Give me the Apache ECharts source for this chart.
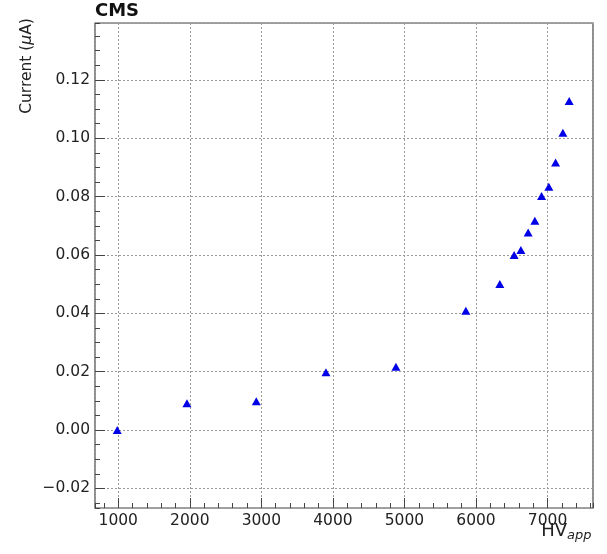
<!DOCTYPE html>
<html>
<head>
<meta charset="utf-8">
<script src="https://cdn.jsdelivr.net/npm/echarts@6/dist/echarts.min.js"></script>
<style>
  html, body { margin: 0; padding: 0; background: #fff; }
  #main { width: 607px; height: 554px; }
</style>
</head>
<body>
<div id="main"></div>
<script>
// applied HV (V) and measured current (uA)
var hvApp = [986, 1960, 2929, 3903, 4881, 5858, 6333, 6533, 6627, 6729, 6822, 6916, 7018, 7112, 7214, 7302];
var current = [0.0, 0.0092, 0.0099, 0.0198, 0.0217, 0.0409, 0.0501, 0.0600, 0.0617, 0.0677, 0.0717, 0.0802, 0.0834, 0.0917, 0.1019, 0.1128];

var xRange = [675, 7635];
var yRange = [-0.0267, 0.1395];

var points = hvApp.map(function (v, i) { return [v, current[i]]; });

var FONT = 'DejaVu Sans';
var frameCol = '#444';

var myChart = echarts.init(document.getElementById('main'));

var option = {
    animation: false,
    textStyle: { fontFamily: FONT },
    grid: {
        left: 95, top: 23, right: 14, bottom: 46,
        show: true,
        borderColor: frameCol,
        borderWidth: 1.2,
        backgroundColor: 'transparent'
    },
    xAxis: [
        {   // major ticks + labels + grid
            type: 'value',
            min: xRange[0], max: xRange[1],
            splitNumber: 6,
            axisLine: { show: false, onZero: false },
            axisTick: { show: true, inside: true, length: 10, lineStyle: { color: frameCol } },
            axisLabel: {
                color: '#222', fontSize: 15.5, margin: 5, fontFamily: FONT,
                showMinLabel: false, showMaxLabel: false,
                formatter: function (v) { return String(Math.round(v)); }
            },
            splitLine: { show: true, lineStyle: { color: '#999', type: [2, 2], width: 1 } }
        },
        {   // minor ticks
            type: 'value',
            min: xRange[0], max: xRange[1],
            splitNumber: 35,
            position: 'bottom',
            axisLine: { show: false, onZero: false },
            axisTick: { show: true, inside: true, length: 5, lineStyle: { color: frameCol } },
            axisLabel: { show: false },
            splitLine: { show: false }
        }
    ],
    yAxis: [
        {
            type: 'value',
            min: yRange[0], max: yRange[1],
            splitNumber: 8,
            position: 'left',
            axisLine: { show: false, onZero: false },
            axisTick: { show: true, inside: true, length: 10, lineStyle: { color: frameCol } },
            axisLabel: {
                color: '#222', fontSize: 15.5, margin: 5, fontFamily: FONT,
                showMinLabel: false, showMaxLabel: false,
                formatter: function (v) {
                    var s = Math.abs(v).toFixed(2);
                    return v < -1e-9 ? '\u2212' + s : s;
                }
            },
            splitLine: { show: true, lineStyle: { color: '#999', type: [2, 2], width: 1 } }
        },
        {
            type: 'value',
            min: yRange[0], max: yRange[1],
            splitNumber: 33,
            position: 'left',
            offset: 0,
            axisLine: { show: false, onZero: false },
            axisTick: { show: true, inside: true, length: 5, lineStyle: { color: frameCol } },
            axisLabel: { show: false },
            splitLine: { show: false }
        }
    ],
    series: [{
        type: 'scatter',
        xAxisIndex: 0,
        yAxisIndex: 0,
        symbol: 'triangle',
        symbolSize: [9, 8],
        itemStyle: { color: '#0000e6', opacity: 1 },
        data: points
    }],
    graphic: [
        {
            type: 'text', left: 95, top: 2,
            style: { text: 'CMS', fontFamily: FONT, fontWeight: 'bold', fontSize: 18, fill: '#111' }
        },
        {
            type: 'text', x: 27, y: 66, rotation: Math.PI / 2,
            style: {
                text: '{n|Current (}{i|\u03bc}{n|A)}',
                align: 'center', verticalAlign: 'middle',
                rich: {
                    n: { fontFamily: FONT, fontSize: 15.5, fill: '#222' },
                    i: { fontFamily: FONT, fontSize: 15.5, fontStyle: 'italic', fill: '#222' }
                }
            }
        },
        {
            type: 'text', x: 567, y: 540,
            style: { text: 'HV', fontFamily: FONT, fontSize: 18, fill: '#222', align: 'right', verticalAlign: 'bottom' }
        },
        {
            type: 'text', x: 567, y: 542,
            style: { text: 'app', fontFamily: FONT, fontSize: 13, fontStyle: 'italic', fill: '#222', align: 'left', verticalAlign: 'bottom' }
        }
    ]
};

myChart.setOption(option);
</script>
</body>
</html>
